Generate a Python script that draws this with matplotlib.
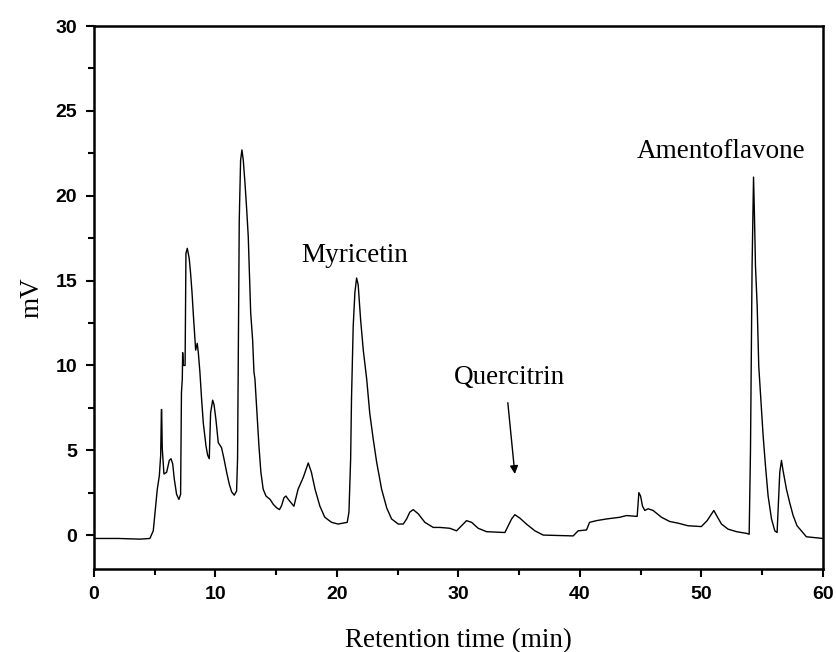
import matplotlib
matplotlib.use("Agg")
import matplotlib.pyplot as plt
from matplotlib.ticker import MultipleLocator

# chromatogram trace (time in min, signal in mV)
time_min = [0.0, 2.0, 3.79, 4.6, 4.88, 5.02, 5.21, 5.38, 5.49, 5.55, 5.57, 5.62, 5.76, 5.98,
            6.2, 6.34, 6.48, 6.61, 6.8, 6.99, 7.13, 7.2, 7.27, 7.3, 7.35, 7.5, 7.57,
            7.68, 7.84, 7.95, 8.07, 8.17, 8.28, 8.37, 8.5, 8.59, 8.72, 8.86, 9.0,
            9.22, 9.36, 9.49, 9.6, 9.77, 9.88, 10.04, 10.23, 10.5, 10.7, 10.92,
            11.14, 11.33, 11.55, 11.74, 11.82, 11.88, 11.96, 12.07, 12.18, 12.29,
            12.43, 12.57, 12.7, 12.78, 12.9, 13.06, 13.17, 13.25, 13.4, 13.58,
            13.74, 13.93, 14.16, 14.5, 14.77, 15.05, 15.27, 15.45, 15.64, 15.8,
            16.0, 16.46, 16.8, 17.23, 17.64, 17.9, 18.2, 18.6, 19.0, 19.56, 20.1,
            20.85, 20.99, 21.13, 21.2, 21.34, 21.48, 21.62, 21.75, 21.95, 22.17,
            22.45, 22.7, 22.99, 23.27, 23.68, 24.1, 24.5, 25.05, 25.46, 25.74,
            26.0, 26.28, 26.7, 27.24, 27.93, 28.48, 29.3, 29.85, 30.26, 30.67,
            31.09, 31.63, 32.32, 33.83, 34.1, 34.38, 34.65, 35.06, 35.6, 36.3,
            36.98, 39.45, 39.86, 40.55, 40.8, 41.37, 42.2, 43.3, 43.84, 44.72,
            44.86, 45.0, 45.16, 45.35, 45.62, 46.03, 46.72, 47.4, 48.1, 48.9,
            50.0, 50.48, 50.84, 51.03, 51.3, 51.66, 52.2, 52.9, 53.72, 53.94,
            54.05, 54.18, 54.3, 54.37, 54.46, 54.6, 54.73, 54.9, 55.09, 55.28,
            55.5, 55.78, 56.05, 56.24, 56.46, 56.6, 56.73, 57.01, 57.28, 57.56,
            57.88, 58.24, 58.65, 60.0]
signal_mv = [-0.2, -0.2, -0.24, -0.2, 0.25, 1.3, 2.7, 3.5, 4.7, 7.4, 7.4, 5.1, 3.6, 3.7,
             4.4, 4.5, 4.2, 3.3, 2.4, 2.1, 2.4, 8.4, 9.2, 10.75, 10.0, 10.0, 16.6,
             16.9, 16.3, 15.45, 14.3, 13.1, 11.9, 10.9, 11.3, 10.75, 9.6, 8.0, 6.6,
             5.25, 4.7, 4.5, 7.2, 7.95, 7.7, 6.8, 5.45, 5.15, 4.5, 3.7,
             3.0, 2.55, 2.35, 2.6, 4.5, 10.5, 18.6, 22.1, 22.7, 22.1,
             20.75, 19.2, 17.6, 15.85, 13.1, 11.5, 9.6, 9.2, 7.4, 5.25,
             3.7, 2.7, 2.3, 2.1, 1.8, 1.6, 1.5, 1.75, 2.2, 2.3,
             2.1, 1.7, 2.7, 3.4, 4.25, 3.7, 2.7, 1.7, 1.05, 0.75, 0.65,
             0.75, 1.35, 4.5, 8.0, 12.3, 14.3, 15.15, 14.75, 12.7, 10.9,
             9.2, 7.2, 5.65, 4.3, 2.7, 1.6, 0.95, 0.65, 0.65, 0.95,
             1.35, 1.5, 1.25, 0.75, 0.45, 0.45, 0.4, 0.25, 0.55, 0.85,
             0.75, 0.4, 0.2, 0.15, 0.55, 0.95, 1.2, 1.0, 0.65, 0.25,
             0.0, -0.05, 0.25, 0.3, 0.75, 0.85, 0.95, 1.05, 1.15, 1.1,
             2.5, 2.3, 1.7, 1.45, 1.55, 1.45, 1.05, 0.8, 0.7, 0.55,
             0.5, 0.85, 1.25, 1.45, 1.1, 0.65, 0.35, 0.2, 0.1, 0.05,
             5.05, 15.85, 21.1, 19.0, 15.85, 13.5, 9.95, 8.0, 5.85, 4.1,
             2.3, 0.95, 0.25, 0.15, 3.7, 4.4, 3.8, 2.7, 1.9, 1.15,
             0.55, 0.25, -0.1, -0.2]

# peak labels: (name, x, y)
peak_names = ["Myricetin", "Quercitrin", "Amentoflavone"]
label_x = [21.5, 34.2, 51.6]
label_y = [16.5, 9.3, 22.6]

fig = plt.figure(figsize=(8.37, 6.52), dpi=100)
ax = fig.add_axes([0.1123, 0.1273, 0.8707, 0.8327])

ax.plot(time_min, signal_mv, color="black", lw=1.0)

ax.set_xlim(0, 60)
ax.set_ylim(-2, 30)
ax.xaxis.set_major_locator(MultipleLocator(10))
ax.xaxis.set_minor_locator(MultipleLocator(5))
ax.yaxis.set_major_locator(MultipleLocator(5))
ax.yaxis.set_minor_locator(MultipleLocator(2.5))
ax.tick_params(which="both", direction="out", top=False, right=False, width=1.5)
ax.tick_params(which="major", length=6, labelsize=14, pad=6)
ax.tick_params(which="minor", length=4)
for lab in ax.get_xticklabels() + ax.get_yticklabels():
    lab.set_family("Liberation Sans")
    lab.set_fontweight("bold")
for sp in ax.spines.values():
    sp.set_linewidth(1.8)

ax.set_xlabel("Retention time (min)", family="Liberation Serif", fontsize=19.5, labelpad=18)
ax.set_ylabel("mV", family="Liberation Serif", fontsize=19.5, labelpad=8)

for name, x, y in zip(peak_names, label_x, label_y):
    ax.text(x, y, name, family="Liberation Serif", fontsize=19.5, ha="center", va="center")

# arrow pointing at the quercitrin peak
ax.annotate("", xy=(34.65, 3.6), xytext=(34.07, 7.8),
            arrowprops=dict(arrowstyle="-|>", color="black", lw=1.0,
                            mutation_scale=12, shrinkA=0, shrinkB=0))

fig.savefig("out.png", dpi=100)
